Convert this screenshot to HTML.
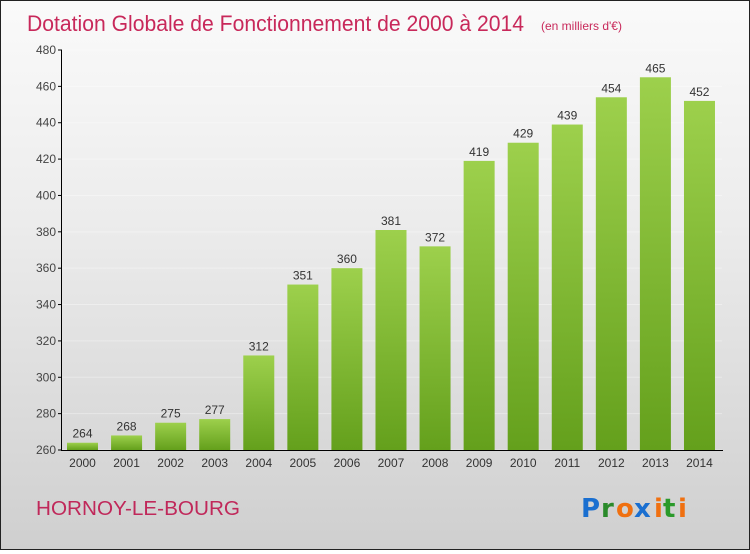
<!DOCTYPE html>
<html><head><meta charset="utf-8"><style>
html,body{margin:0;padding:0;}
body{width:750px;height:550px;overflow:hidden;font-family:"Liberation Sans",sans-serif;}
#wrap{position:relative;width:748px;height:548px;border:1px solid #222;background:linear-gradient(#fafafa,#ececec 40%,#cfcfcf);}
</style></head><body>
<div id="wrap">
<svg id="chart" width="748" height="548">
<defs>
<linearGradient id="bg" x1="0" y1="0" x2="0" y2="1"><stop offset="0" stop-color="#9dd04c"/><stop offset="1" stop-color="#64a01c"/></linearGradient>
</defs>
<text x="26" y="30" font-size="22" fill="#c8285a" textLength="497" lengthAdjust="spacingAndGlyphs">Dotation Globale de Fonctionnement de 2000 à 2014</text>
<text x="540" y="29" font-size="12" fill="#c8285a">(en milliers d'€)</text>
<g id="grid"></g>
<g id="bars"></g>
<g id="axes"></g>
<text x="35" y="514" font-size="20" fill="#c0285a" textLength="204" lengthAdjust="spacingAndGlyphs">HORNOY-LE-BOURG</text>
<g font-size="26" font-family="'DejaVu Sans',sans-serif" font-weight="bold">
<text x="580" y="516" fill="#1a6fd0">P</text><text x="600" y="516" fill="#2a8a2a">r</text><text x="615" y="516" fill="#f07010">o</text><text x="633" y="516" fill="#1a6fd0">x</text><text x="653" y="516" fill="#f07010">i</text><text x="662" y="516" fill="#2a9a2a">t</text><text x="677" y="516" fill="#f07010">i</text>
</g>
</svg>
</div>
<script>
const years=["2000","2001","2002","2003","2004","2005","2006","2007","2008","2009","2010","2011","2012","2013","2014"];
const values=[264,268,275,277,312,351,360,381,372,419,429,439,454,465,452];
const yTicks=[260,280,300,320,340,360,380,400,420,440,460,480];
const NS="http://www.w3.org/2000/svg";
const y0=449,y1=49,vmin=260,vmax=480;
function yScale(v){return y0-(v-vmin)/(vmax-vmin)*(y0-y1);}
function xScale(i){return 66+i*44.07;}
const bw=31;
function mk(t,a,p){const e=document.createElementNS(NS,t);for(const k in a)e.setAttribute(k,a[k]);p.appendChild(e);return e;}
const grid=document.getElementById('grid'),bars=document.getElementById('bars'),axes=document.getElementById('axes');
yTicks.forEach(v=>{
 const y=yScale(v);
 const g=mk('line',{x1:61,x2:721,y1:y,y2:y,stroke:'#ffffff','stroke-width':1,'stroke-opacity':0.35},grid);
 
 
 mk('line',{x1:57,x2:61,y1:y,y2:y,stroke:'#000'},axes);
 const t=mk('text',{x:55,y:y+4,'text-anchor':'end','font-size':12,fill:'#444'},axes);
 t.textContent=v;
 
 
});
values.forEach((v,i)=>{
 const x=xScale(i),y=yScale(v);
 const r=mk('rect',{x:x,y:y,width:bw,height:y0-y,fill:'url(#bg)'},bars);
 
 
 const t=mk('text',{x:x+bw/2,y:y-5,'text-anchor':'middle','font-size':12,fill:'#333'},bars);
 t.textContent=v;
 
 
 const l=mk('text',{x:x+bw/2,y:y0+17,'text-anchor':'middle','font-size':12,fill:'#333'},axes);
 l.textContent=years[i];
 
 
});
const ya=mk('line',{x1:60.5,x2:60.5,y1:y1,y2:y0+1,stroke:'#000'},axes);


const xa=mk('line',{x1:60,x2:722,y1:y0+0.5,y2:y0+0.5,stroke:'#000'},axes);


</script>
</body></html>
